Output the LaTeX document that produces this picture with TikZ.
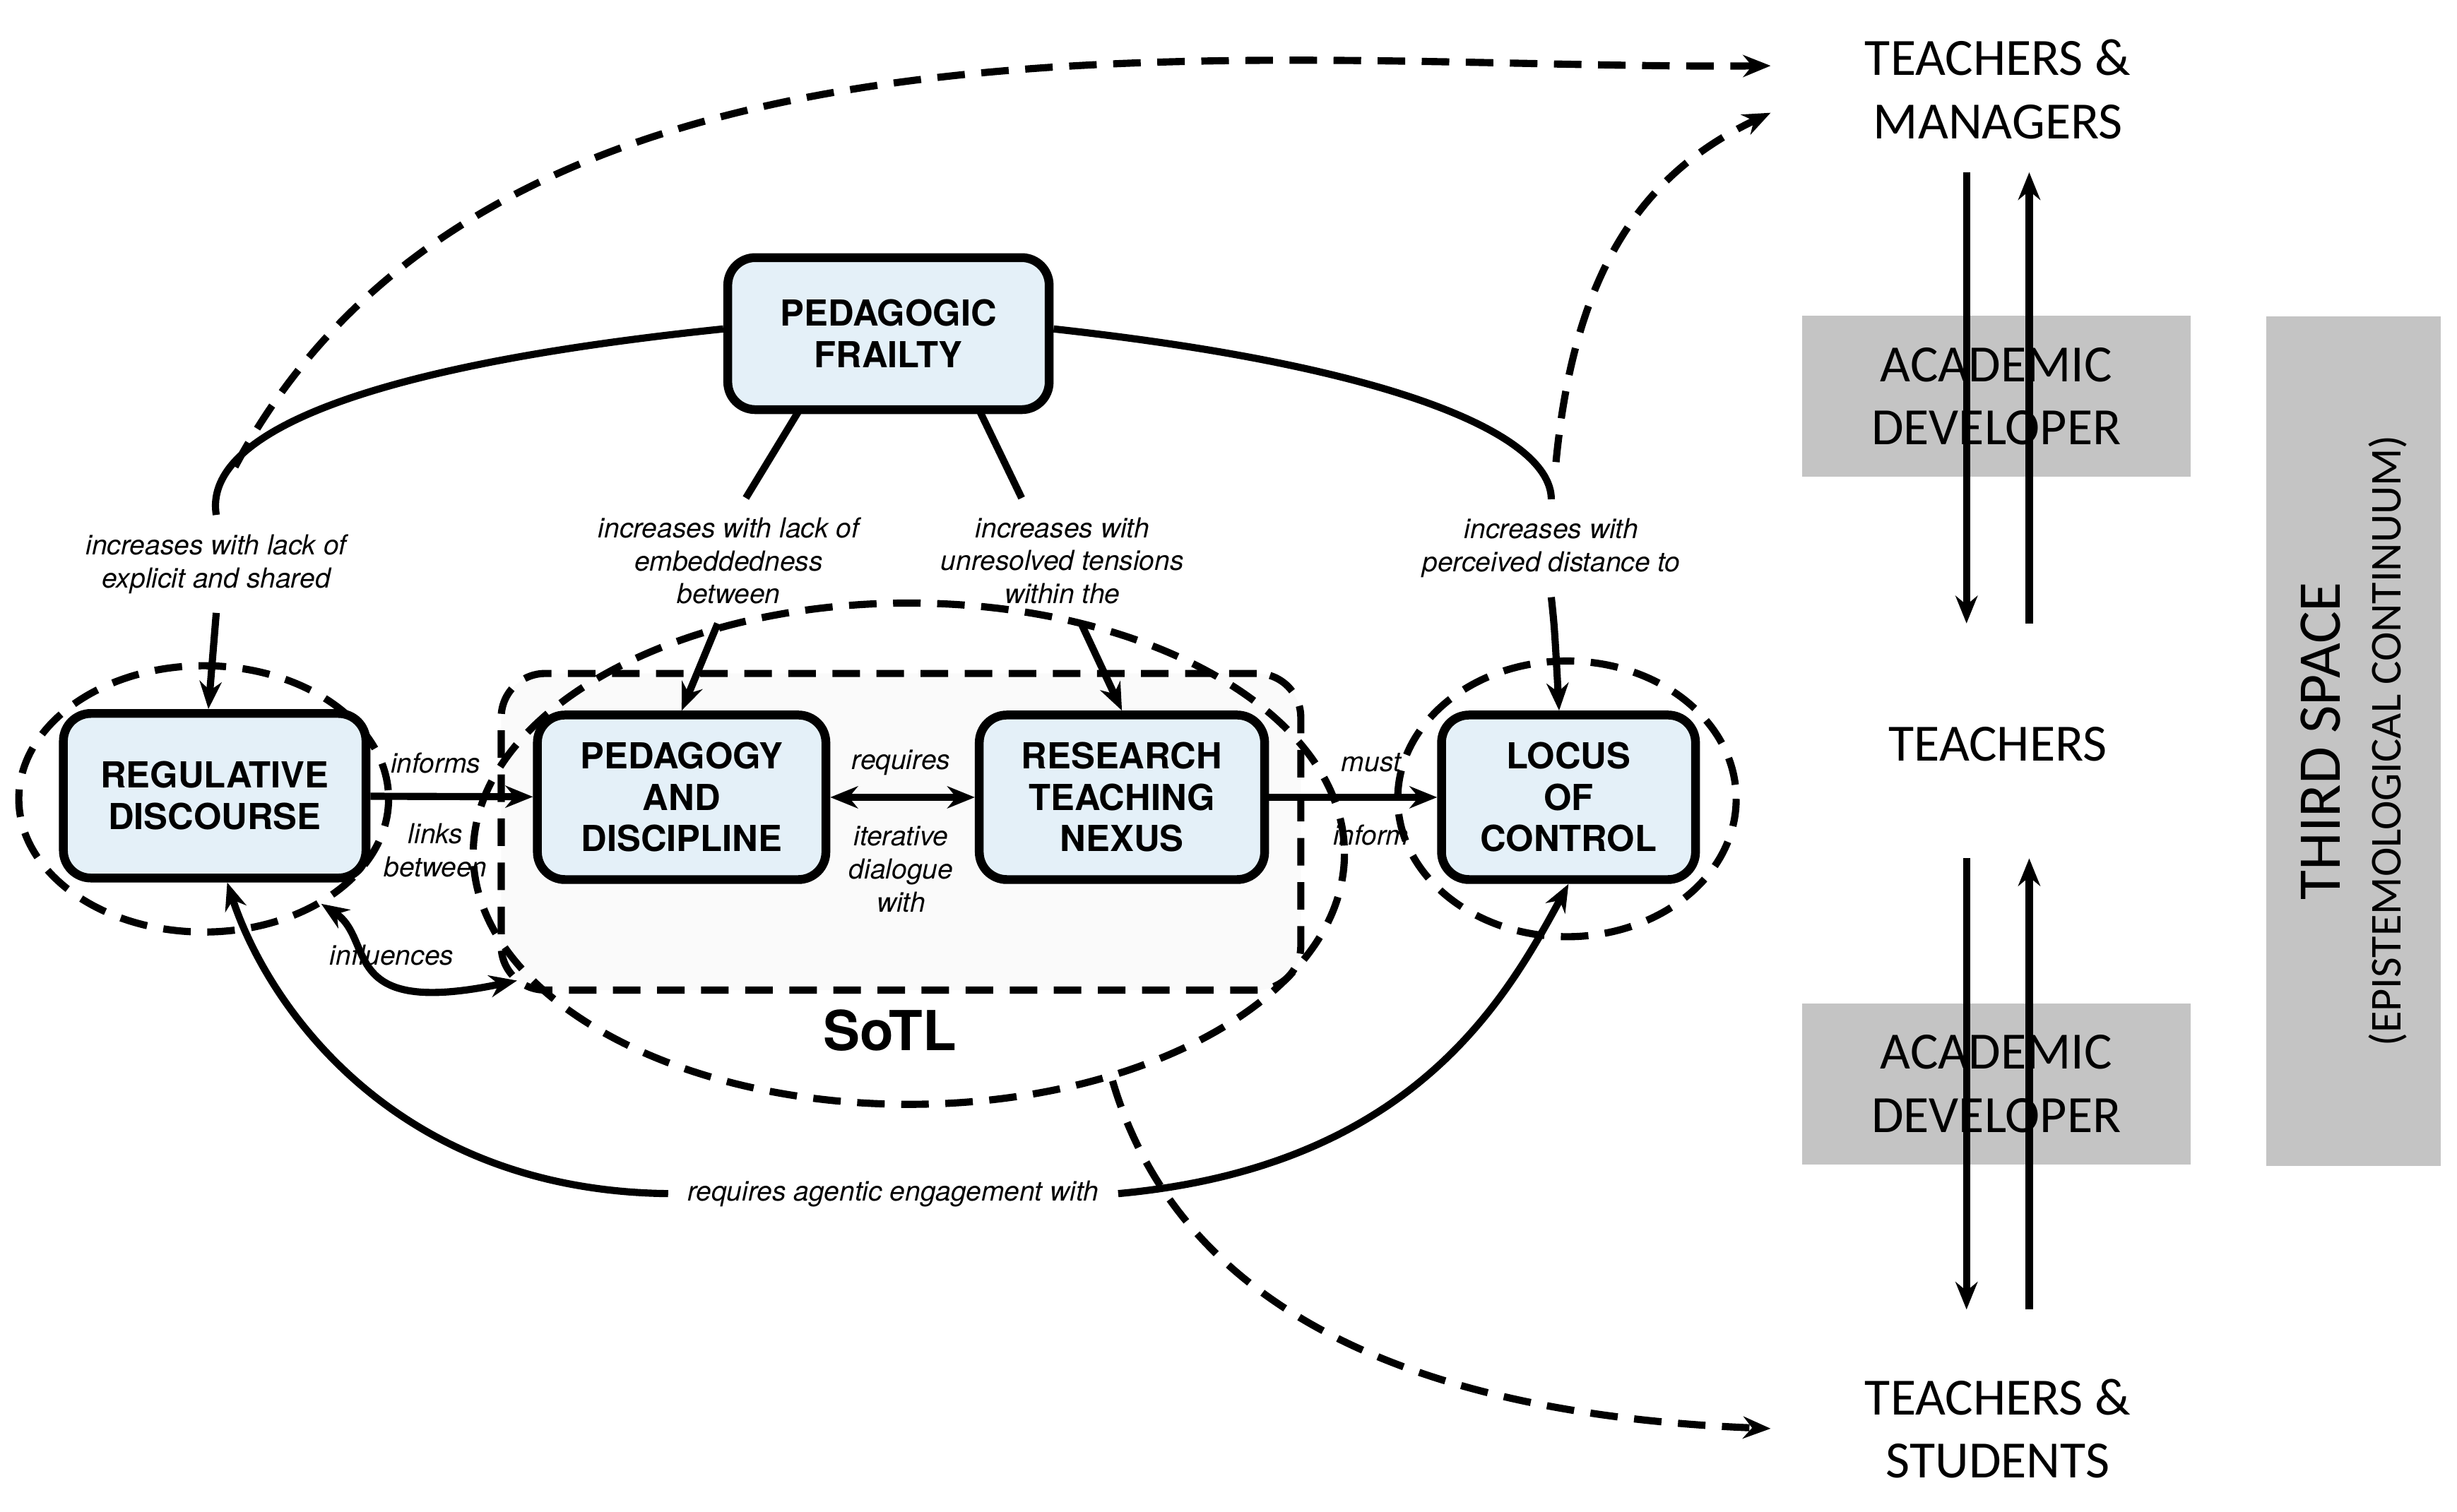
\documentclass[tikz,border=0pt]{standalone}
\usepackage{fontspec}
\setmainfont{TeX Gyre Heros}
\newfontfamily\carl{Carlito}
\usetikzlibrary{arrows.meta}
\definecolor{boxblue}{HTML}{E4F0F8}
\definecolor{devgray}{HTML}{C4C4C4}
\begin{document}
\begin{tikzpicture}[x=0.01cm,y=-0.01cm,
 box/.style={draw=black,line width=1.6pt,rounded corners=5pt,fill=boxblue,minimum width=#1,minimum height=1.05cm,align=center,font=\fontsize{6.5}{7.5}\selectfont\bfseries},
 lab/.style={font=\fontsize{5}{6}\selectfont\itshape,align=center},
 rt/.style={font=\carl\fontsize{9.5}{11.5}\selectfont,align=center},
 dev/.style={fill=devgray,minimum width=2.48cm,minimum height=1.03cm,rt},
 arr/.style={line width=1.3pt,-{Stealth[length=5pt,width=4pt]}},
 ln/.style={line width=1.3pt},
 dsh/.style={line width=1.3pt,dash pattern=on 5pt off 3pt},
 darr/.style={dsh,-{Stealth[length=5pt,width=4pt]}}]
\useasboundingbox (0,0) rectangle (1568,965);
% SoTL region
\node[draw,dsh,rounded corners=8pt,fill=gray!4,minimum width=5.1cm,minimum height=2.02cm] (sotl) at (575,531) {};
\node[font=\fontsize{10}{12}\selectfont\bfseries] (sotll) at (568,658) {SoTL};
\draw[dsh] (580,545) ellipse [x radius=278,y radius=160];
\draw[dsh] (130,510) ellipse [x radius=118,y radius=85];
\draw[dsh] (1000,510) ellipse [x radius=108,y radius=88];
% boxes
\node[box=2.05cm,minimum height=0.97cm] (pf) at (567,213) {PEDAGOGIC\\FRAILTY};
\node[box=1.93cm] (rd) at (137,508) {REGULATIVE\\DISCOURSE};
\node[box=1.84cm] (pd) at (435,509) {PEDAGOGY\\AND\\DISCIPLINE};
\node[box=1.82cm] (rt) at (716,509) {RESEARCH\\TEACHING\\NEXUS};
\node[box=1.62cm] (lc) at (1001,509) {LOCUS\\OF\\CONTROL};
% labels
\node[lab] (l1) at (138,360) {increases with lack of\\explicit and shared};
\node[lab] (l2) at (465,358) {increases with lack of\\embeddedness\\between};
\node[lab] (l3) at (678,358) {increases with\\unresolved tensions\\within the};
\node[lab] (l4) at (990,350) {increases with\\perceived distance to};
\node[lab] (inf) at (278,487) {informs};
\node[lab] (lb) at (278,543) {links\\between};
\node[lab] (req) at (575,487) {requires};
\node[lab] (itd) at (575,555) {iterative\\dialogue\\with};
\node[lab] (must) at (875,487) {must};
\node[lab] (infm) at (875,533) {inform};
\node[lab] (infl) at (250,610) {influences};
\node[lab] (rae) at (570,762) {requires agentic engagement with};
% frailty connectors
\draw[ln] (pf.west|-0,210) .. controls (220,235) and (130,280) .. (l1.north);
\draw[arr] (l1.south) -- (rd.north-|133,0);
\draw[ln] (pf.east|-0,210) .. controls (900,235) and (990,280) .. (l4.north);
\draw[arr] (l4.south) .. controls (992,400) .. (lc.north-|995,0);
\draw[ln] (510,262) -- (l2.north-|476,0);
\draw[arr] (l2.south-|458,0) -- (pd.north);
\draw[ln] (625,262) -- (l3.north-|652,0);
\draw[arr] (l3.south-|690,0) -- (rt.north);
% horizontal
\draw[arr] (rd) -- (pd);
\draw[arr,{Stealth[length=5pt,width=4pt]}-{Stealth[length=5pt,width=4pt]}] (pd) -- (rt);
\draw[arr] (rt) -- (lc);
\draw[arr,{Stealth[length=5pt,width=4pt]}-{Stealth[length=5pt,width=4pt]}] (205,577) .. controls (240,600) and (215,650) .. (330,626);
\draw[arr] (rae.west) .. controls (250,760) and (170,640) .. (rd.south-|145,0);
\draw[arr] (rae.east) .. controls (900,745) and (960,640) .. (lc.south);
% right side
\node[rt] (tm) at (1275,57) {TEACHERS \&\\MANAGERS};
\node[dev] (ad1) at (1274,253) {ACADEMIC\\DEVELOPER};
\node[rt] (te) at (1275,475) {TEACHERS};
\node[dev] (ad2) at (1274,692) {ACADEMIC\\DEVELOPER};
\node[rt] (ts) at (1275,912) {TEACHERS \&\\STUDENTS};
\node[fill=devgray,minimum width=1.11cm,minimum height=5.42cm] (ts3) at (1502,473) {};
\node[rotate=90,font=\carl,align=center] (tsl) at (1502,473) {{\fontsize{11}{13}\selectfont THIRD SPACE}\\[-1pt]{\fontsize{8}{10}\selectfont (EPISTEMOLOGICAL CONTINUUM)}};
\coordinate (a1) at (1255,110); \coordinate (a2) at (1255,398);
\coordinate (b1) at (1295,398); \coordinate (b2) at (1295,110);
\coordinate (c1) at (1255,548); \coordinate (c2) at (1255,836);
\coordinate (d1) at (1295,836); \coordinate (d2) at (1295,548);
\draw[arr] (a1) -- (a2); \draw[arr] (b1) -- (b2);
\draw[arr] (c1) -- (c2); \draw[arr] (d1) -- (d2);
% dashed curves
\coordinate (s1) at (150,298); \coordinate (e1) at (1130,42);
\coordinate (s2) at (993,295); \coordinate (e2) at (1130,72);
\coordinate (s3) at (710,690); \coordinate (e3) at (1130,912);
\draw[darr] (s1) .. controls (320,-20) and (800,45) .. (e1);
\draw[darr] (s2) .. controls (1005,170) and (1050,110) .. (e2);
\draw[darr] (s3) .. controls (760,860) and (950,905) .. (e3);
\end{tikzpicture}
\end{document}
